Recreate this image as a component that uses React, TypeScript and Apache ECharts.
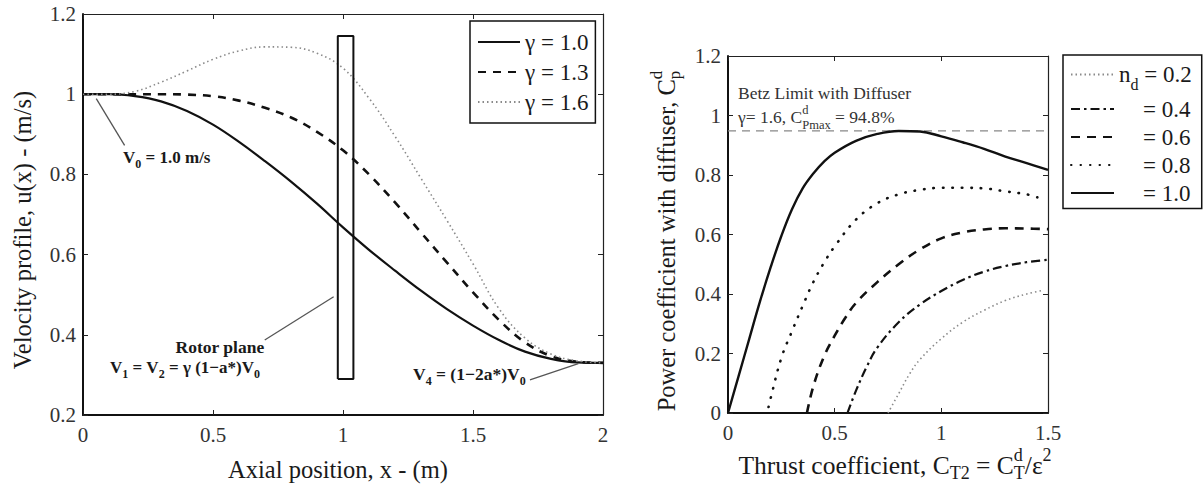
import React, { useEffect, useRef } from "react";
import * as echarts from "echarts";

const SERIF = '"Liberation Serif", "Times New Roman", serif';

// ---------- Left panel: velocity profile ----------
const axialX = [0, 0.1, 0.2, 0.3, 0.4, 0.5, 0.6, 0.7, 0.8, 0.9, 1.0, 1.1, 1.2, 1.3, 1.4, 1.5, 1.6, 1.7, 1.8, 1.9, 2.0];
const uGamma10 = [1.0, 1.0, 0.995, 0.982, 0.958, 0.924, 0.881, 0.833, 0.782, 0.727, 0.668, 0.612, 0.56, 0.51, 0.464, 0.423, 0.387, 0.358, 0.34, 0.331, 0.33];
const uGamma13 = [1.0, 1.0, 1.0, 1.0, 0.999, 0.995, 0.984, 0.966, 0.942, 0.906, 0.86, 0.8, 0.73, 0.655, 0.58, 0.506, 0.437, 0.381, 0.347, 0.333, 0.33];
const uGamma16 = [1.0, 1.0, 1.007, 1.03, 1.058, 1.087, 1.108, 1.118, 1.117, 1.102, 1.065, 0.99, 0.895, 0.79, 0.685, 0.577, 0.465, 0.392, 0.352, 0.335, 0.33];
const gammaNames = ["γ = 1.0", "γ = 1.3", "γ = 1.6"];
const rotorX = [0.98, 0.98, 1.04, 1.04, 0.98];
const rotorY = [0.29, 1.145, 1.145, 0.29, 0.29];
// annotation arrows: [fromX, fromY, toX, toY]
const leftArrows = [
  [0.16, 0.8725, 0.051, 0.989],
  [0.699, 0.387, 0.964, 0.495],
  [1.719, 0.2875, 1.905, 0.328],
];

// ---------- Right panel: power coefficient ----------
const ctNd10 = [0, 0.05, 0.1, 0.15, 0.2, 0.25, 0.3, 0.35, 0.4, 0.45, 0.5, 0.6, 0.7, 0.8, 0.9, 1.0, 1.1, 1.2, 1.3, 1.4, 1.5];
const cpNd10 = [0, 0.125, 0.25, 0.375, 0.49, 0.595, 0.685, 0.755, 0.805, 0.845, 0.875, 0.915, 0.938, 0.948, 0.946, 0.93, 0.91, 0.888, 0.862, 0.84, 0.817];
const ctNd08 = [0.19, 0.2, 0.25, 0.3, 0.35, 0.4, 0.45, 0.5, 0.6, 0.7, 0.8, 0.9, 1.0, 1.1, 1.2, 1.3, 1.4, 1.45];
const cpNd08 = [0.02, 0.05, 0.185, 0.275, 0.36, 0.44, 0.505, 0.56, 0.65, 0.705, 0.735, 0.75, 0.757, 0.757, 0.755, 0.745, 0.735, 0.725];
const ctNd06 = [0.37, 0.4, 0.45, 0.5, 0.55, 0.6, 0.7, 0.8, 0.9, 1.0, 1.1, 1.2, 1.3, 1.4, 1.5];
const cpNd06 = [0, 0.09, 0.19, 0.26, 0.32, 0.37, 0.44, 0.5, 0.55, 0.587, 0.607, 0.617, 0.621, 0.62, 0.618];
const ctNd04 = [0.56, 0.6, 0.65, 0.7, 0.8, 0.9, 1.0, 1.1, 1.2, 1.3, 1.4, 1.5];
const cpNd04 = [0, 0.075, 0.155, 0.22, 0.305, 0.365, 0.41, 0.447, 0.475, 0.494, 0.507, 0.515];
const ctNd02 = [0.75, 0.8, 0.85, 0.9, 1.0, 1.1, 1.2, 1.3, 1.4, 1.48];
const cpNd02 = [0, 0.065, 0.13, 0.18, 0.25, 0.305, 0.345, 0.378, 0.4, 0.413];
const ndLevels = ["0.2", "0.4", "0.6", "0.8", "1.0"];
const ndNames = ndLevels.map((l) => `n_d = ${l}`);
const betzX = [0, 1.5];
const betzCp = 0.948;

const zip = (xs: number[], ys: number[]) => xs.map((x, i) => [x, ys[i]]);

type Seg = { t: string; fs: number; dy?: number; bold?: boolean; stack?: boolean };
let mctx: CanvasRenderingContext2D | null = null;
function measure(t: string, fs: number, bold?: boolean) {
  if (!mctx) mctx = document.createElement("canvas").getContext("2d");
  mctx!.font = `${bold ? "bold " : ""}${fs}px ${SERIF}`;
  return mctx!.measureText(t).width;
}
function composite(segs: Seg[], x: number, y: number, anchor: "left" | "center", rotation = 0, color = "#1a1a1a") {
  let cursor = 0;
  let prevStart = 0;
  const placed = segs.map((s) => {
    const w = measure(s.t, s.fs, s.bold);
    const start = s.stack ? prevStart : cursor;
    prevStart = start;
    cursor = Math.max(cursor, start + w);
    return { s, start };
  });
  const off = anchor === "center" ? -cursor / 2 : 0;
  return {
    type: "group",
    x,
    y,
    rotation,
    silent: true,
    children: placed.map(({ s, start }) => ({
      type: "text",
      x: start + off,
      y: s.dy || 0,
      style: {
        text: s.t,
        font: `${s.bold ? "bold " : ""}${s.fs}px ${SERIF}`,
        fill: color,
        textAlign: "left",
        textVerticalAlign: "middle",
        align: "left",
        verticalAlign: "middle",
      },
    })),
  };
}

function axisPair(gridIndex: number, min: number, max: number, interval: number, isX: boolean) {
  const label = { fontFamily: SERIF, fontSize: 21, color: "#333", margin: isX ? 9 : 7 };
  const tick = { inside: true, length: 5, lineStyle: { color: "#222", width: 1 } };
  const main = {
    gridIndex, type: "value", min, max, interval,
    position: isX ? "bottom" : "left",
    axisLine: { onZero: false, lineStyle: { color: "#111", width: 2 } },
    axisTick: tick,
    axisLabel: label,
    splitLine: { show: false },
  };
  const mirror = {
    gridIndex, type: "value", min, max, interval,
    position: isX ? "top" : "right",
    axisLine: { onZero: false, lineStyle: { color: "#222", width: 1.2 } },
    axisTick: tick,
    axisLabel: { show: false },
    splitLine: { show: false },
  };
  return [main, mirror];
}

export default function App() {
  const ref = useRef<HTMLDivElement>(null);
  useEffect(() => {
    if (!ref.current) return;
    const chart = echarts.init(ref.current, null, { renderer: "svg" });
    const black = "#111";
    const gray = "#8a8a8a";
    const noSym = { symbol: "none", showSymbol: false, silent: true };
    const sm = { smooth: 0.4 };

    const series: any[] = [
      { name: gammaNames[0], type: "line", xAxisIndex: 0, yAxisIndex: 0, data: zip(axialX, uGamma10), ...sm, ...noSym, lineStyle: { color: black, width: 2.2, type: "solid" }, itemStyle: { color: black } },
      { name: gammaNames[1], type: "line", xAxisIndex: 0, yAxisIndex: 0, data: zip(axialX, uGamma13), ...sm, ...noSym, lineStyle: { color: black, width: 2.6, type: [8, 7] }, itemStyle: { color: black } },
      { name: gammaNames[2], type: "line", xAxisIndex: 0, yAxisIndex: 0, data: zip(axialX, uGamma16), ...sm, ...noSym, lineStyle: { color: gray, width: 1.6, type: [1.5, 3] }, itemStyle: { color: gray } },
      {
        name: "rotor", type: "line", xAxisIndex: 0, yAxisIndex: 0, data: zip(rotorX, rotorY), ...noSym,
        lineStyle: { color: black, width: 2 },
        markLine: {
          silent: true, symbol: ["none", "arrow"], symbolSize: [0, 10], label: { show: false },
          lineStyle: { color: "#555", width: 1.3, type: "solid" },
          data: leftArrows.map((a) => [{ coord: [a[0], a[1]] }, { coord: [a[2], a[3]] }]),
        },
      },
      { name: "betz", type: "line", xAxisIndex: 2, yAxisIndex: 2, data: betzX.map((x) => [x, betzCp]), ...noSym, lineStyle: { color: "#888", width: 1.3, type: [8, 6] } },
      { name: ndNames[0], type: "line", xAxisIndex: 2, yAxisIndex: 2, data: zip(ctNd02, cpNd02), ...sm, ...noSym, lineStyle: { color: gray, width: 1.6, type: [1.5, 3] }, itemStyle: { color: gray } },
      { name: ndNames[1], type: "line", xAxisIndex: 2, yAxisIndex: 2, data: zip(ctNd04, cpNd04), ...sm, ...noSym, lineStyle: { color: black, width: 2.2, type: [9, 4, 2.5, 4] }, itemStyle: { color: black } },
      { name: ndNames[2], type: "line", xAxisIndex: 2, yAxisIndex: 2, data: zip(ctNd06, cpNd06), ...sm, ...noSym, lineStyle: { color: black, width: 2.6, type: [9, 7] }, itemStyle: { color: black } },
      { name: ndNames[3], type: "line", xAxisIndex: 2, yAxisIndex: 2, data: zip(ctNd08, cpNd08), ...sm, ...noSym, lineStyle: { color: black, width: 2.6, type: [0.5, 9], cap: "round" }, itemStyle: { color: black } },
      { name: ndNames[4], type: "line", xAxisIndex: 2, yAxisIndex: 2, data: zip(ctNd10, cpNd10), ...sm, ...noSym, lineStyle: { color: black, width: 2.4, type: "solid" }, itemStyle: { color: black } },
    ];

    const graphics = [
      composite([{ t: "Velocity profile, u(x) - (m/s)", fs: 24.5 }], 22, 230, "center", Math.PI / 2),
      composite([{ t: "Axial position, x - (m)", fs: 24.5 }], 338, 469, "center"),
      composite(
        [
          { t: "Power coefficient with diffuser, C", fs: 24.5 },
          { t: "d", fs: 17, dy: -10 },
          { t: "p", fs: 17, dy: 8, stack: true },
        ],
        666, 241, "center", Math.PI / 2
      ),
      composite(
        [
          { t: "Thrust coefficient, C", fs: 25.5 },
          { t: "T2", fs: 18, dy: 8 },
          { t: " = C", fs: 25.5 },
          { t: "d", fs: 18, dy: -10 },
          { t: "T", fs: 18, dy: 8, stack: true },
          { t: "/ε", fs: 25.5 },
          { t: "2", fs: 18, dy: -10 },
        ],
        895, 465, "center"
      ),
      composite(
        [
          { t: "V", fs: 17, bold: true },
          { t: "0", fs: 12, bold: true, dy: 7 },
          { t: " = 1.0 m/s", fs: 17, bold: true },
        ],
        123, 157, "left"
      ),
      composite([{ t: "Rotor plane", fs: 17.5, bold: true }], 220, 347, "center"),
      composite(
        [
          { t: "V", fs: 17, bold: true },
          { t: "1", fs: 12, bold: true, dy: 7 },
          { t: " = V", fs: 17, bold: true },
          { t: "2", fs: 12, bold: true, dy: 7 },
          { t: " = γ (1−a*)V", fs: 17, bold: true },
          { t: "0", fs: 12, bold: true, dy: 7 },
        ],
        110, 367, "left"
      ),
      composite(
        [
          { t: "V", fs: 17.5, bold: true },
          { t: "4", fs: 12, bold: true, dy: 7 },
          { t: " = (1−2a*)V", fs: 17.5, bold: true },
          { t: "0", fs: 12, bold: true, dy: 7 },
        ],
        413, 374, "left"
      ),
      composite([{ t: "Betz Limit with Diffuser", fs: 17.5 }], 738, 93, "left", 0, "#333"),
      composite(
        [
          { t: "γ= 1.6, C", fs: 17.5 },
          { t: "d", fs: 12.5, dy: -7 },
          { t: "Pmax", fs: 12.5, dy: 8, stack: true },
          { t: " = 94.8%", fs: 17.5 },
        ],
        738, 117, "left", 0, "#333"
      ),
    ];

    const [x0, x1] = axisPair(0, 0, 2, 0.5, true);
    const [y0, y1] = axisPair(0, 0.2, 1.2, 0.2, false);
    const [x2, x3] = axisPair(1, 0, 1.5, 0.5, true);
    const [y2, y3] = axisPair(1, 0, 1.2, 0.2, false);

    chart.setOption({
      animation: false,
      backgroundColor: "#fff",
      grid: [
        { left: 83, top: 14, width: 520, height: 401 },
        { left: 728, top: 56, width: 320, height: 357 },
      ],
      xAxis: [x0, x1, x2, x3],
      yAxis: [y0, y1, y2, y3],
      legend: [
        {
          orient: "vertical", left: 470, top: 21, data: gammaNames, selectedMode: false,
          itemWidth: 42, itemHeight: 14, itemGap: 6, padding: [9, 7, 9, 7],
          borderColor: "#111", borderWidth: 1.5, backgroundColor: "#fff",
          itemStyle: { opacity: 0 },
          textStyle: { fontFamily: SERIF, fontSize: 23, color: "#1a1a1a", lineHeight: 24 },
        },
        {
          orient: "vertical", left: 1063, top: 55, data: ndNames, selectedMode: false,
          itemWidth: 43, itemHeight: 14, itemGap: 5, padding: [8, 10, 4, 7],
          borderColor: "#111", borderWidth: 1.5, backgroundColor: "#fff",
          itemStyle: { opacity: 0 },
          formatter: (name: string) => {
            const i = ndNames.indexOf(name);
            return i === 0 ? `{n|n}{d|d}{v| = ${ndLevels[0]}}` : `{p|}{v|= ${ndLevels[i]}}`;
          },
          textStyle: {
            fontFamily: SERIF, fontSize: 23, color: "#1a1a1a",
            rich: {
              n: { fontFamily: SERIF, fontSize: 23, lineHeight: 24, color: "#1a1a1a" },
              d: { fontFamily: SERIF, fontSize: 16, lineHeight: 36, verticalAlign: "bottom", color: "#1a1a1a" },
              v: { fontFamily: SERIF, fontSize: 23, lineHeight: 24, color: "#1a1a1a" },
              p: { width: 24, lineHeight: 24 },
            },
          },
        },
      ],
      series,
      graphic: { elements: graphics },
    });
    return () => chart.dispose();
  }, []);
  return <div ref={ref} style={{ position: "fixed", left: 0, top: 0, width: 1203, height: 488, background: "#fff" }} />;
}
